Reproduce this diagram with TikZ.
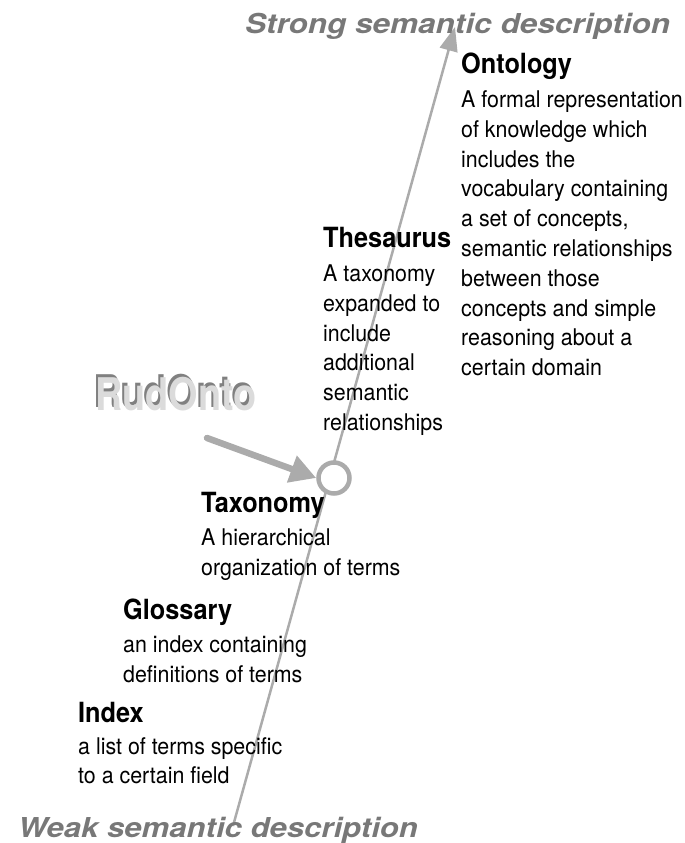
\documentclass[tikz,border=0pt]{standalone}
\usepackage{fontspec}
\setmainfont{TeX Gyre Heros}
\newfontfamily\bodyfam[FakeStretch=0.93]{TeX Gyre Heros}
\newfontfamily\headfam[FakeStretch=0.91]{TeX Gyre Heros}
\newfontfamily\strongfam[FakeStretch=1.15]{TeX Gyre Heros}
\newfontfamily\weakfam[FakeStretch=1.135]{TeX Gyre Heros}
\newfontfamily\rudfam[FakeStretch=0.84]{TeX Gyre Heros}
\usetikzlibrary{arrows.meta}
\definecolor{lg}{gray}{0.67}
\definecolor{capgray}{gray}{0.47}
\definecolor{rudback}{gray}{0.5}
\definecolor{rudfront}{gray}{0.86}
\tikzset{
 x=1pt,y=-1pt,
 head/.style={font=\headfam\fontsize{27.8}{30}\selectfont\bfseries,anchor=base west,inner sep=0,text=black},
 body/.style={font=\bodyfam\fontsize{23}{29.8}\selectfont,anchor=north west,inner sep=0,align=left,text=black},
 captext/.style={text=capgray,anchor=base west,inner sep=0},
 rud/.style={font=\rudfam\fontsize{45}{48}\selectfont\bfseries,anchor=base west,inner sep=0},
}
\begin{document}
\begin{tikzpicture}
\useasboundingbox (0,0) rectangle (685,843);
\coordinate (lo) at (233,826);
\coordinate (hi) at (455,27);
\draw[lg,line width=2.5pt,-{Triangle[length=24pt,width=18pt]}] (lo) -- (hi);
\node[captext,font=\strongfam\fontsize{27.4}{30}\selectfont\bfseries\itshape] (strong) at (245,34) {Strong semantic description};
\node[captext,font=\weakfam\fontsize{27.4}{30}\selectfont\bfseries\itshape] (weak) at (18,837) {Weak semantic description};
\node[head] (ont) at (461,74) {Ontology};
\node[body] (ontb) at (461,90.5) {A formal representation\\of knowledge which\\includes the\\vocabulary containing\\a set of concepts,\\semantic relationships\\between those\\concepts and simple\\reasoning about a\\certain domain};
\node[head] (the) at (323,247.5) {Thesaurus};
\node[body] (theb) at (323,264.5) {A taxonomy\\expanded to\\include\\additional\\semantic\\relationships};
\node[draw=lg,line width=4.5pt,circle,minimum size=31pt,inner sep=0,fill=white] (c) at (334,478) {};
\node[head] (tax) at (201,512) {Taxonomy};
\node[body] (taxb) at (201,528.5) {A hierarchical\\organization of terms};
\node[head] (glo) at (123,619.5) {Glossary};
\node[body] (glob) at (123,635.5) {an index containing\\definitions of terms};
\node[head] (ind) at (78,722) {Index};
\node[body] (indb) at (78,737) {a list of terms specific\\to a certain field};
\coordinate (rs) at (207,438);
\draw[lg,line width=6.5pt,line cap=round,-{Triangle[length=26pt,width=27pt]}] (rs) -- (c.west);
\node[rud,text=rudback] (r1) at (93,407) {RudOnto};
\node[rud,text=rudfront] (r2) at (95,410) {RudOnto};
\end{tikzpicture}
\end{document}
